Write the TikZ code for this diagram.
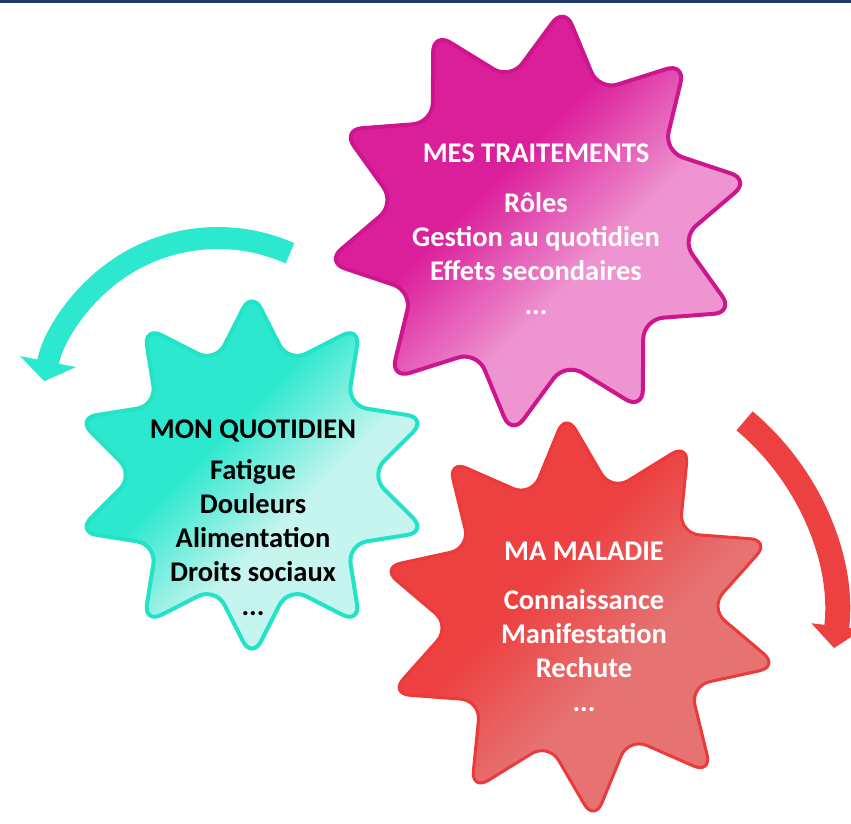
\documentclass[tikz,border=0pt]{standalone}
\usepackage{fontspec}
\newfontfamily\gearfont{Carlito}
\usetikzlibrary{arrows.meta}

\definecolor{magD}{RGB}{219,31,155}
\definecolor{magL}{RGB}{238,148,208}
\definecolor{magB}{RGB}{205,22,142}
\definecolor{cyaD}{RGB}{44,232,206}
\definecolor{cyaL}{RGB}{198,244,238}
\definecolor{cyaB}{RGB}{34,226,200}
\definecolor{redD}{RGB}{237,64,64}
\definecolor{redL}{RGB}{230,114,114}
\definecolor{redB}{RGB}{236,58,58}
\definecolor{topbar}{RGB}{31,58,104}

\pgfdeclareverticalshading{magfade}{100bp}{color(0bp)=(magL); color(42bp)=(magL); color(57bp)=(magD); color(100bp)=(magD)}
\pgfdeclareverticalshading{cyafade}{100bp}{color(0bp)=(cyaL); color(42bp)=(cyaL); color(57bp)=(cyaD); color(100bp)=(cyaD)}
\pgfdeclareverticalshading{redfade}{100bp}{color(0bp)=(redL); color(42bp)=(redL); color(57bp)=(redD); color(100bp)=(redD)}

% star outline: outer radius, inner radius, angle of first tip
\newcommand{\gearpath}[3]{(#3:#1) \foreach \k in {0,...,8} {-- (#3+36*\k+18:#2) -- (#3+36*\k+36:#1)} -- (#3+342:#2) -- cycle}

\begin{document}
\begin{tikzpicture}[x=1pt, y=1pt,
    gear/.style={rounded corners=20pt, shading angle=45},
    txt/.style={align=center, inner sep=0pt, font={\gearfont\bfseries\fontsize{28.5}{34}\selectfont}},
    turn/.style={line width=#1}]
    \useasboundingbox (0,0) rectangle (851,823);
    \fill[white] (0,0) rectangle (851,823);
    \fill[topbar] (0,820) rectangle (851,823);

    \coordinate (mag) at (538,602);
    \coordinate (cya) at (252,348);
    \coordinate (mal) at (580,206);
    \coordinate (qarc) at (218,408);

    % Mon quotidien
    \shadedraw[gear, shading=cyafade, draw=cyaB, line width=4pt, shift={(cya)}] \gearpath{184}{118}{18};
    \node[txt, text=black] (quotidien) at (253,305)
        {MON QUOTIDIEN\\[7pt] Fatigue\\ Douleurs\\ Alimentation\\ Droits sociaux\\ ...};

    % Mes traitements
    \shadedraw[gear, shading=magfade, draw=magB, line width=4pt, shift={(mag)}] \gearpath{216}{144}{11};
    \node[txt, text=white] (traitements) at (536,594)
        {MES TRAITEMENTS\\[16pt] Rôles\\ Gestion au quotidien\\ Effets secondaires\\ ...};

    % Ma maladie
    \shadedraw[gear, shading=redfade, draw=redB, line width=3pt, shift={(mal)}] \gearpath{205}{130}{22};
    \node[txt, text=white] (maladie) at (584,196)
        {MA MALADIE\\[15pt] Connaissance\\ Manifestation\\ Rechute\\ ...};

    % arrows
    \draw[turn=22pt, cyaD, -{Triangle[width=56pt, length=20pt]}]
        ([shift={(66:177)}]qarc) arc[start angle=66, end angle=169, radius=177];
    \draw[turn=25pt, redD, -{Triangle[width=50pt, length=22pt]}]
        ([shift={(50:256)}]mal) arc[start angle=50, end angle=-7, radius=256];
\end{tikzpicture}
\end{document}
